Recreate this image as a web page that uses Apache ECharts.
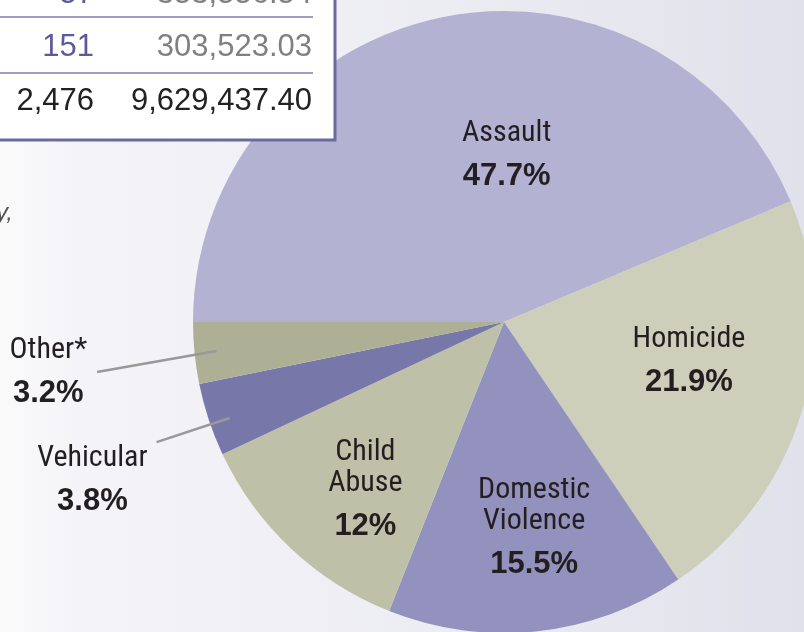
<!DOCTYPE html>
<html lang="en">
<head>
    <meta charset="UTF-8">
    <title>Case types</title>
    <script type="text/javascript" src="https://cdn.jsdelivr.net/npm/echarts@6/dist/echarts.min.js"></script>
    <style>
        html, body { margin: 0; padding: 0; }
        #main {
            width: 804px; height: 632px;
            background: linear-gradient(90deg, #fafafb 0%, #f4f4f8 10%, #ececf3 55%, #e1e1eb 100%);
        }
    </style>
</head>
<body>
<div id="main"></div>
<script type="text/javascript">
    // pie data
    var categories = ['Assault', 'Homicide', 'Domestic\nViolence', 'Child\nAbuse', 'Vehicular', 'Other*'];
    var shares = [43.7, 21.9, 15.5, 12, 3.8, 3.2];          // slice sizes as drawn
    var pctLabels = ['47.7%', '21.9%', '15.5%', '12%', '3.8%', '3.2%'];  // printed text
    // table rows (top row is cut off in the picture)
    var tableCounts = ['57', '151', '2,476'];
    var tableAmounts = ['353,556.54', '303,523.03', '9,629,437.40'];

    var sliceColors = ['#b3b2d3', '#cdcfba', '#9391bd', '#bec1a8', '#7877a9', '#aeb096'];
    var narrow = "'Roboto Condensed', 'Liberation Sans Narrow', sans-serif";
    var sans = "'Liberation Sans', Arial, sans-serif";

    // label nudges from the default spot
    var labelShift = [[34, -6], [33, 0], [13, 54], [-30, 58], [-4, 48.5], [-5, 15]];
    // leader lines: how far they reach into the slice, and a nudge of both ends
    var leaderInset = 22;
    var leaderNudge = { 4: [[0, 5], [0, 5]], 5: [[0, 0], [0, 9]] };

    var myChart = echarts.init(document.getElementById('main'));

    function isOutside(i) { return i >= 4; }

    // slices with the inside labels
    var pieData = categories.map(function (name, i) {
        var item = { name: name, value: shares[i], itemStyle: { color: sliceColors[i] } };
        if (isOutside(i)) item.label = { show: false };
        return item;
    });
    // same slices again, see-through, carrying the outside labels so the leaders sit on top
    var overlayData = categories.map(function (name, i) {
        var item = { name: name, value: shares[i] };
        if (isOutside(i)) {
            item.label = { show: true };
            item.labelLine = { show: true, length: i == 4 ? 55 : 98, length2: 0 };
        } else {
            item.label = { show: false };
        }
        return item;
    });

    var graphics = [{
        type: 'rect', z: 100,
        shape: { x: -10, y: -10, width: 345, height: 150 },
        style: { fill: '#ffffff', stroke: '#6a6a9f', lineWidth: 3 }
    }];
    [17, 73].forEach(function (y) {
        graphics.push({
            type: 'line', z: 101,
            shape: { x1: 0, y1: y, x2: 313, y2: y },
            style: { stroke: '#7b7bb0', lineWidth: 1.5 }
        });
    });
    var rowY = [-6, 47, 101];
    for (var i = 0; i < tableCounts.length; i++) {
        var total = i == tableCounts.length - 1;
        graphics.push({
            type: 'text', z: 102, x: 94, y: rowY[i],
            style: { text: tableCounts[i], fill: total ? '#222222' : '#5b5b9c', font: '31px ' + sans, align: 'right', verticalAlign: 'middle' }
        });
        graphics.push({
            type: 'text', z: 102, x: 312, y: rowY[i],
            style: { text: tableAmounts[i], fill: total ? '#222222' : '#808080', font: '31px ' + sans, align: 'right', verticalAlign: 'middle' }
        });
    }
    // edge of the neighbouring paragraph
    graphics.push({
        type: 'text', z: 5, x: -4, y: 213,
        style: { text: 'y,', fill: '#555555', font: 'italic 24px ' + sans, verticalAlign: 'middle' }
    });

    function layoutLabel(p) {
        var s = labelShift[p.dataIndex];
        var out = { dx: s[0], dy: s[1] };
        var nudge = leaderNudge[p.dataIndex];
        var pts = p.labelLinePoints;
        if (nudge && pts && pts.length > 1) {
            var a = pts[0], b = pts[pts.length - 1];
            var len = Math.sqrt((b[0] - a[0]) * (b[0] - a[0]) + (b[1] - a[1]) * (b[1] - a[1])) || 1;
            var ux = (b[0] - a[0]) / len, uy = (b[1] - a[1]) / len;
            out.labelLinePoints = [
                [a[0] - ux * leaderInset + nudge[0][0], a[1] - uy * leaderInset + nudge[0][1]],
                [b[0] + nudge[1][0], b[1] + nudge[1][1]]
            ];
        }
        return out;
    }

    var labelOpt = {
        distanceToLabelLine: 5,
        formatter: function (p) {
            var lines = p.name.split('\n').map(function (s) { return '{n|' + s + '}'; });
            return lines.join('\n') + '\n{p|' + pctLabels[p.dataIndex] + '}';
        },
        rich: {
            n: { fontFamily: narrow, fontSize: 30, lineHeight: 31, color: '#231f20', align: 'center' },
            p: { fontFamily: sans, fontSize: 31, fontWeight: 'bold', lineHeight: 55, color: '#231f20', align: 'center' }
        }
    };
    var pieBase = {
        type: 'pie',
        center: [504, 322],
        radius: 311,
        startAngle: 180,
        clockwise: true,
        avoidLabelOverlap: false,
        emphasis: { disabled: true },
        labelLayout: layoutLabel
    };

    myChart.setOption({
        animation: false,
        graphic: graphics,
        series: [
            echarts.util.merge({
                z: 2,
                data: pieData,
                label: echarts.util.merge({ position: 'inside' }, labelOpt),
                labelLine: { show: false }
            }, pieBase),
            echarts.util.merge({
                z: 3,
                silent: true,
                data: overlayData,
                itemStyle: { color: 'rgba(0,0,0,0)' },
                label: echarts.util.merge({ position: 'outside' }, labelOpt),
                labelLine: { showAbove: true, lineStyle: { color: '#999999', width: 2.5 } }
            }, pieBase)
        ]
    });
</script>
</body>
</html>
